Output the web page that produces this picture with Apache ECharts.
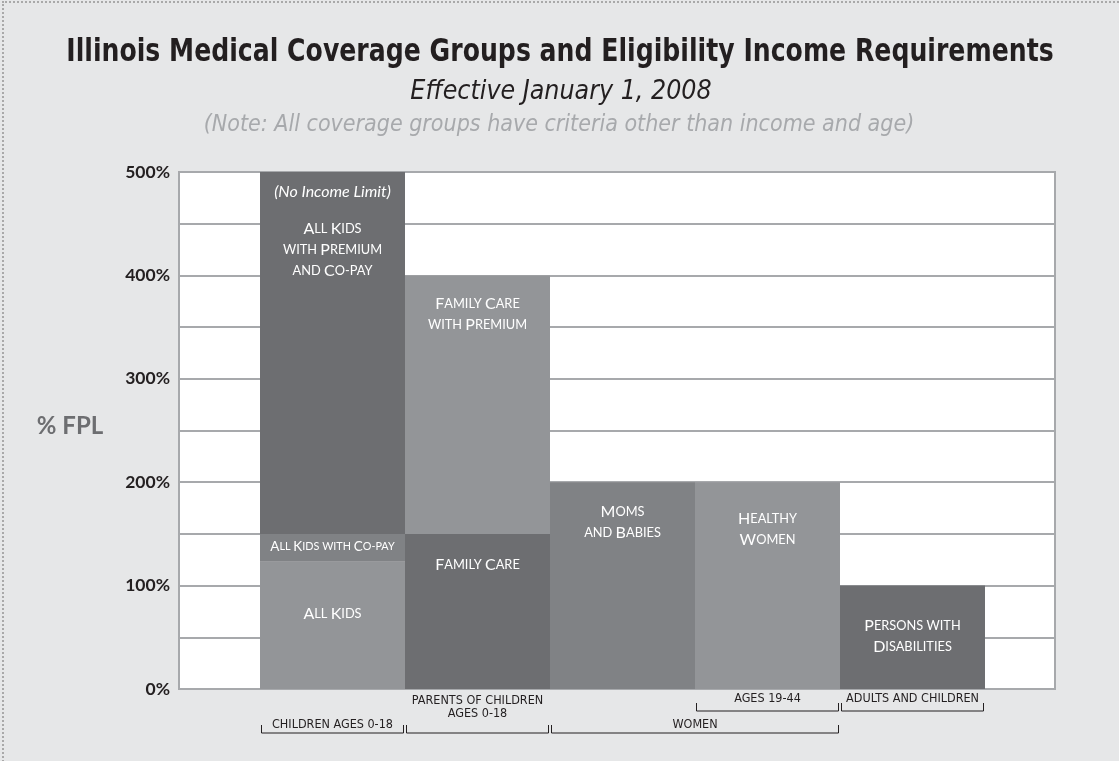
<!DOCTYPE html>
<html>
<head>
<meta charset="utf-8">
<script src="https://cdn.jsdelivr.net/npm/echarts@6/dist/echarts.min.js"></script>
<style>
  html, body { margin: 0; padding: 0; background: #e6e7e8; }
  #chart { width: 1119px; height: 761px; position: absolute; left: 0; top: 0; }
  #frame { position: absolute; left: 2px; top: 1px; width: 1130px; height: 770px;
           border-top: 2px dotted #a9a9a9; border-left: 2px dotted #a9a9a9; pointer-events: none; }
</style>
</head>
<body>
<div id="chart"></div>
<div id="frame"></div>
<script>
// ---- data ----
const categories = ['Children 0-18', 'Parents 0-18', 'Women (Moms and Babies)', 'Women 19-44', 'Adults and Children'];
const baseLimit    = [123, 150, 200, 200, 100];   // % FPL, bottom program
const copayLimit   = [150, null, null, null, null];
const premiumLimit = [500, 400, null, null, null];
const baseNames    = ['All Kids', 'Family Care', 'Moms\nand Babies', 'Healthy\nWomen', 'Persons with\nDisabilities'];
const copayNames   = ['All Kids with Co-pay', null, null, null, null];
const premiumNames = ['All Kids\nwith Premium\nand Co-pay', 'Family Care\nwith Premium', null, null, null];
const premiumNotes = ['(No Income Limit)', null, null, null, null];
const yTicks = [0, 100, 200, 300, 400, 500];
const bracketLabels = ['CHILDREN AGES 0-18', 'PARENTS OF CHILDREN\nAGES 0-18', 'WOMEN', 'AGES 19-44', 'ADULTS AND CHILDREN'];
const bracketFrom = [0, 1, 2, 3, 4];
const bracketTo   = [0, 1, 3, 3, 4];
const bracketRow  = [2, 2, 2, 1, 1];

// ---- styles ----
const DARK = '#6d6e71', MED = '#808285', LIGHT = '#939598';
const baseColors = [LIGHT, DARK, MED, LIGHT, DARK];
const copayColors = [MED];
const premiumColors = [DARK, LIGHT];
const FONT = 'Lato, "Open Sans", sans-serif';
const NARROW = '"Liberation Sans Narrow", "DejaVu Sans Condensed", "DejaVu Sans", sans-serif';

function sc(str, p) {
  return str.split('\n').map(line => {
    let out = '', cur = null, buf = '';
    for (const ch of line) {
      let t, c;
      if (ch >= 'A' && ch <= 'Z') { t = 'B'; c = ch; }
      else if (ch >= 'a' && ch <= 'z') { t = 'S'; c = ch.toUpperCase(); }
      else { t = 'S'; c = ch; }
      if (t !== cur) { if (buf) out += '{' + p + cur + '|' + buf + '}'; cur = t; buf = ''; }
      buf += c;
    }
    if (buf) out += '{' + p + cur + '|' + buf + '}';
    return out;
  }).join('\n');
}
function richSet(p, big, small, lh) {
  const r = {};
  r[p + 'B'] = { fontSize: big, fontFamily: FONT, color: '#fff', lineHeight: lh };
  r[p + 'S'] = { fontSize: small, fontFamily: FONT, color: '#fff', lineHeight: lh };
  return r;
}
const rich = Object.assign({},
  richSet('m', 16, 12.8, 21),
  richSet('x', 13.5, 10.8, 16),
  { it: { fontSize: 16, fontStyle: 'italic', fontFamily: FONT, color: '#fff', lineHeight: 24 },
    sp: { fontSize: 4, lineHeight: 14 } });

// label placement per bar (style only)
const baseLabelPos = [
  { position: 'inside', offset: [0, -12] },
  { position: 'insideTop', distance: 20 },
  { position: 'insideTop', distance: 19 },
  { position: 'insideTop', distance: 26 },
  { position: 'insideTop', distance: 30 }
];

const baseData = baseLimit.map((v, i) => ({
  value: v,
  itemStyle: { color: baseColors[i] },
  label: Object.assign({ show: true, formatter: sc(baseNames[i], 'm'), rich: rich, align: 'center' }, baseLabelPos[i])
}));
const copayData = copayLimit.map((v, i) => v == null ? '-' : ({
  value: v - baseLimit[i],
  itemStyle: { color: copayColors[i] },
  label: { show: true, position: 'inside', offset: [0, -1], formatter: sc(copayNames[i], 'x'), rich: rich }
}));
const premiumData = premiumLimit.map((v, i) => {
  if (v == null) return '-';
  const lower = copayLimit[i] != null ? copayLimit[i] : baseLimit[i];
  let txt = sc(premiumNames[i], 'm');
  if (premiumNotes[i]) txt = '{it|' + premiumNotes[i] + '}\n{sp| }\n' + txt;
  return {
    value: v - lower,
    itemStyle: { color: premiumColors[i] },
    label: { show: true, position: 'insideTop', distance: premiumNotes[i] ? 8 : 18, formatter: txt, rich: rich }
  };
});

const bracketData = bracketLabels.map((t, i) => [bracketFrom[i], bracketTo[i], bracketRow[i], i]);
const bracketTextDy = [-8, -26, -8, -12, -12];

const chart = echarts.init(document.getElementById('chart'));
chart.setOption({
  backgroundColor: '#e6e7e8',
  animation: false,
  graphic: [
    { type: 'text', x: 560, y: 53, scaleX: 0.888, style: { text: 'Illinois Medical Coverage Groups and Eligibility Income Requirements',
      font: 'bold 31.5px ' + NARROW, fill: '#231f20', textAlign: 'center', textVerticalAlign: 'middle' } },
    { type: 'text', x: 561, y: 92, style: { text: 'Effective January 1, 2008',
      font: 'italic 26.5px ' + NARROW, fill: '#231f20', textAlign: 'center', textVerticalAlign: 'middle' } },
    { type: 'text', x: 559, y: 125, style: { text: '(Note: All coverage groups have criteria other than income and age)',
      font: 'italic 23px ' + NARROW, fill: '#a7a9ac', textAlign: 'center', textVerticalAlign: 'middle' } },
    { type: 'text', x: 70, y: 426, style: { text: '% FPL',
      font: 'bold 24px ' + FONT, fill: '#6d6e71', textAlign: 'center', textVerticalAlign: 'middle' } }
  ],
  grid: [
    { left: 179, right: 64, top: 172, bottom: 72, show: true, backgroundColor: '#fff', borderColor: '#a7a9ac', borderWidth: 2 },
    { left: 260, right: 134, top: 172, bottom: 72 }
  ],
  xAxis: [
    { type: 'value', gridIndex: 0, min: 0, max: 1, show: false },
    { type: 'category', gridIndex: 1, data: categories, show: false }
  ],
  yAxis: [
    { type: 'value', gridIndex: 0, min: 0, max: 500, interval: 50,
      axisLine: { show: true, lineStyle: { color: '#a7a9ac', width: 2 } },
      axisTick: { show: false },
      splitLine: { show: true, lineStyle: { color: '#a7a9ac', width: 2 } },
      axisLabel: { margin: 9, fontFamily: FONT, fontWeight: 'bold', fontSize: 17.5, color: '#231f20',
        formatter: v => yTicks.indexOf(v) >= 0 ? v + '%' : '' } },
    { type: 'value', gridIndex: 1, min: 0, max: 500, show: false }
  ],
  series: [
    { type: 'bar', name: 'base', xAxisIndex: 1, yAxisIndex: 1, stack: 'fpl', barWidth: '100%', data: baseData },
    { type: 'bar', name: 'copay', xAxisIndex: 1, yAxisIndex: 1, stack: 'fpl', barWidth: '100%', data: copayData },
    { type: 'bar', name: 'premium', xAxisIndex: 1, yAxisIndex: 1, stack: 'fpl', barWidth: '100%', data: premiumData },
    { type: 'custom', name: 'groups', xAxisIndex: 1, yAxisIndex: 1, clip: false, silent: true,
      encode: { x: [0, 1] },
      data: bracketData,
      renderItem: function (params, api) {
        const s = api.value(0), e = api.value(1), row = api.value(2), idx = api.value(3);
        const bw = api.size([1, 0])[0];
        const p0 = api.coord([s, 0]);
        const p1 = api.coord([e, 0]);
        const xs = p0[0] - bw / 2 + 1.5, xe = p1[0] + bw / 2 - 1.5;
        const lineY = p0[1] + (row === 1 ? 22 : 44);
        return {
          type: 'group',
          children: [
            { type: 'polyline', shape: { points: [[xs, lineY - 8], [xs, lineY], [xe, lineY], [xe, lineY - 8]] },
              style: { stroke: '#231f20', lineWidth: 1, fill: null } },
            { type: 'text', x: (xs + xe) / 2, y: lineY + bracketTextDy[idx],
              style: { text: bracketLabels[idx], font: '12.5px ' + NARROW, fill: '#231f20',
                textAlign: 'center', textVerticalAlign: 'middle', lineHeight: 13 } }
          ]
        };
      }
    }
  ]
});
</script>
</body>
</html>
